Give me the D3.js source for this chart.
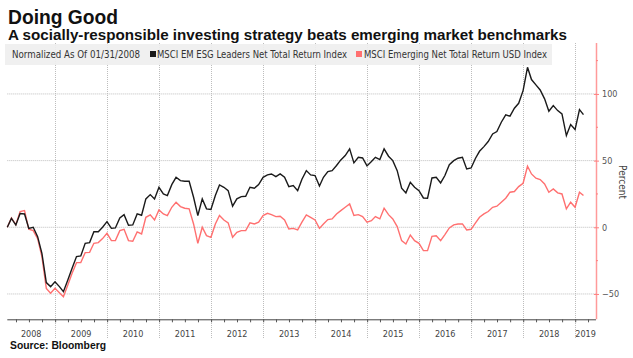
<!DOCTYPE html>
<html><head><meta charset="utf-8">
<script src="https://cdn.jsdelivr.net/npm/d3@7"></script>
<style>
html,body{margin:0;padding:0;background:#fff;}
svg{display:block;}
text{font-family:"Liberation Sans",Arial,sans-serif;}
</style></head>
<body>
<svg id="chart" width="633" height="358"></svg>
<script>
// ---- data (monthly, starting 31 Jan 2008, % change since 01/31/2008) ----
const startMonth = "2008-01-31";
const esgLeaders = [
 0,6.7,1.7,10.3,10,-0.8,0,-7,-19.5,-41.5,-44.5,-40.8,
 -44.5,-48.3,-39.5,-30.8,-22,-21.5,-12,-11.5,-3.3,-3.3,0,4.2,
 -0.8,-0.5,7,9.5,1.5,1.8,10,9,21.3,24.5,21.3,30,
 25,23.8,32,37.5,35,34.5,34.5,22.5,8.8,21.3,13.8,13.3,
 23.8,31.8,30,27.5,15.8,21.3,23,23.3,30,29.3,32,37.5,
 39.3,40,38,40,37.5,30.5,31.3,27.5,36,42.5,39.3,38.8,
 31,37.5,41.8,42.5,46.3,50.5,53.8,58.8,48.3,52.5,52,46,
 49.3,52.5,50.8,58.8,53.3,50,42.5,29.3,25.8,33.8,30,27.5,
 22,21.8,37,37.5,33.3,38.8,47,50,51.8,52.5,43.8,44.5,
 51.8,57,60.5,64.3,70,71.8,78.8,84.3,83.3,89.3,93,102.5,
 120,110.8,106.8,103,96.3,87,91.3,87.5,85,68.8,77,73.3,
 88.3,84.5
];
const emergingUSD = [
 0,7,2,11.7,12.5,-1.5,-2.5,-8.5,-22,-45.8,-49.5,-45.8,
 -49,-52,-43.3,-34.5,-26.5,-26.5,-19,-18.8,-12,-11.5,-8.5,-4.5,
 -10,-10,-2.5,-1.5,-10,-10.5,-3.5,-5,7.5,9.3,5.5,13,
 10,8.8,15,18.8,15.5,14.3,13.8,2.5,-12,0,-6.3,-7.5,
 2.5,8.8,5.5,3.3,-7.5,-3.8,-2.5,-2.5,3.3,2.5,3.8,8.8,
 10.5,9.5,8,8.3,5.5,-1.3,-0.8,-2,3.8,9.3,7.5,5.5,
 -0.8,2.5,5.8,6.3,10,12.5,15,17.5,8.8,9.5,8,3.8,
 5,8,6.3,14.3,9.5,6.3,0.5,-10,-12.5,-5.8,-10,-12,
 -17.5,-17.5,-6.8,-6.3,-10,-5.5,-0.5,1.8,2.5,2.5,-2,-1.5,
 3.3,7.5,10,11.8,15,15.8,18.8,21.8,26.3,26.8,30.5,33,
 45.8,40,36.8,35.8,32.5,26.3,28.8,25.8,25,13.8,18.8,15,
 26.3,23.8
];
const seriesNames = ["MSCI EM ESG Leaders Net Total Return Index","MSCI Emerging Net Total Return USD Index"];
const seriesColors = ["#1a1a1a","#ff7070"];
const yTicksMajor = [-50,0,50,100];
const yTicksMinor = [-25,25,75,125];
const yearLabels = ["2008","2009","2010","2011","2012","2013","2014","2015","2016","2017","2018","2019"];
const titleText = "Doing Good";
const subtitleText = "A socially-responsible investing strategy beats emerging market benchmarks";
const legendLead = "Normalized As Of 01/31/2008";
const sourceText = "Source:  Bloomberg";

// ---- layout ----
const svg = d3.select("#chart");
const L = 7.3, R = 596, T = 43, B = 319.3;
const parse = d3.utcParse("%Y-%m-%d");
const t0 = parse(startMonth);
const dates = esgLeaders.map((_, i) => d3.utcDay.offset(d3.utcMonth.offset(d3.utcMonth.floor(t0), i + 1), -1));
const tEnd = parse("2019-05-27");
const x = d3.scaleUtc().domain([t0, tEnd]).range([L, R]);
const y = d3.scaleLinear().domain([-69, 138.2]).range([B, T]);

function fitText(sel, w){ sel.attr("textLength", w).attr("lengthAdjust","spacingAndGlyphs"); return sel; }

// titles
fitText(svg.append("text").attr("x",8).attr("y",24).attr("font-size",21).attr("font-weight","bold").attr("fill","#111").text(titleText),110);
fitText(svg.append("text").attr("x",8).attr("y",40).attr("font-size",15).attr("font-weight","bold").attr("fill","#111").text(subtitleText),559);

// grid: horizontal
const g = svg.append("g");
g.selectAll("line.hg").data(yTicksMajor).join("line")
  .attr("x1",L).attr("x2",R).attr("y1",d=>y(d)).attr("y2",d=>y(d))
  .attr("stroke","#bdbdbd").attr("stroke-width",1).attr("stroke-dasharray","1,1");

// year boundaries
const yearStarts = d3.utcYear.range(d3.utcYear.ceil(t0), tEnd);
g.selectAll("line.vg").data(yearStarts).join("line")
  .attr("x1",d=>Math.round(x(d))+0.5).attr("x2",d=>Math.round(x(d))+0.5).attr("y1",T).attr("y2",338)
  .attr("stroke","#bdbdbd").attr("stroke-width",1).attr("stroke-dasharray","1,1");

// legend box
svg.append("rect").attr("x",5).attr("y",44).attr("width",547).attr("height",21).attr("fill","#efefef").attr("opacity",0.92);
const lf = "'Liberation Sans Narrow','DejaVu Sans Condensed','Liberation Sans',sans-serif";
fitText(svg.append("text").attr("x",12).attr("y",58).attr("font-size",11).attr("fill","#333").style("font-family",lf).text(legendLead),128);
svg.append("rect").attr("x",150).attr("y",51).attr("width",6).attr("height",6).attr("fill",seriesColors[0]);
fitText(svg.append("text").attr("x",157).attr("y",58).attr("font-size",11).attr("fill","#333").style("font-family",lf).text(seriesNames[0]),190);
svg.append("rect").attr("x",356).attr("y",51).attr("width",6).attr("height",6).attr("fill",seriesColors[1]);
fitText(svg.append("text").attr("x",364).attr("y",58).attr("font-size",11).attr("fill","#333").style("font-family",lf).text(seriesNames[1]),183);

// x axis
const xAxis = d3.axisBottom(x).ticks(d3.utcMonth.every(3)).tickSize(3).tickFormat("");
const xa = svg.append("g").attr("transform",`translate(0,${B})`).call(xAxis);
xa.select(".domain").attr("stroke","#444").attr("d",`M${L},0.5H${R}`);
xa.selectAll(".tick line").attr("stroke","#555");
const bounds = [t0, ...yearStarts, tEnd];
svg.selectAll("text.yl").data(yearLabels).join("text")
  .attr("x",(d,i)=>(x(bounds[i])+x(bounds[i+1]))/2).attr("y",337)
  .attr("text-anchor","middle").attr("font-size",9).attr("fill","#444")
  .style("font-family","'DejaVu Sans Condensed','Liberation Sans',sans-serif").text(d=>d);

// lines
const line = d3.line().x((d,i)=>x(dates[i])).y(d=>y(d));
svg.append("path").datum(emergingUSD).attr("d",line).attr("fill","none").attr("stroke",seriesColors[1]).attr("stroke-width",1.4);
svg.append("path").datum(esgLeaders).attr("d",line).attr("fill","none").attr("stroke",seriesColors[0]).attr("stroke-width",1.4);

// right axis
const yAxis = d3.axisRight(y).tickValues(yTicksMajor).tickSize(3).tickPadding(3);
const ya = svg.append("g").attr("transform",`translate(${R},0)`).call(yAxis);
ya.select(".domain").attr("stroke","#ff9a9a").attr("stroke-width",1.5).attr("d",`M0.5,${T}V${B}`);
ya.selectAll(".tick line").attr("stroke","#ff8080").attr("x1",-2);
ya.selectAll(".tick text").attr("fill","#555").attr("font-size",9).style("font-family","'DejaVu Sans Condensed','Liberation Sans',sans-serif");
ya.selectAll("line.minor").data(yTicksMinor.filter(v=>y(v)>=T)).join("line")
  .attr("x1",0).attr("x2",2).attr("y1",d=>y(d)).attr("y2",d=>y(d)).attr("stroke","#ff8080");
svg.append("text").attr("transform","translate(619,182) rotate(90)").attr("text-anchor","middle")
  .attr("font-size",10).attr("fill","#444").style("font-family","'DejaVu Sans Condensed','Liberation Sans',sans-serif").text("Percent");

// source
fitText(svg.append("text").attr("x",10).attr("y",349).attr("font-size",11.5).attr("font-weight","bold").attr("fill","#111").text(sourceText),96);
</script>
</body></html>
